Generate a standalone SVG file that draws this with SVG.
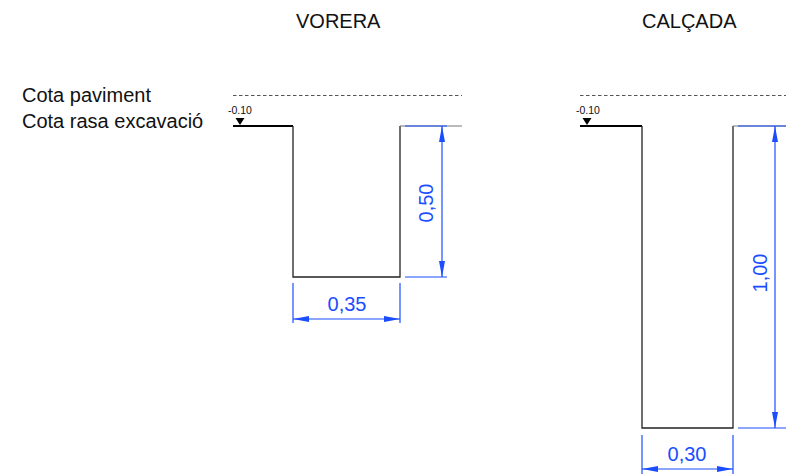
<svg xmlns="http://www.w3.org/2000/svg" width="786" height="474" viewBox="0 0 786 474">
<style>
.t{font-family:"Liberation Sans",Arial,sans-serif;font-size:20px;fill:#111}
.s{font-family:"Liberation Sans",Arial,sans-serif;font-size:10.5px;fill:#111}
.d{font-family:"Liberation Sans",Arial,sans-serif;font-size:20px;fill:#1a4dff}
.dash{stroke:#555;stroke-width:1.2;stroke-dasharray:3.5 2.5;fill:none}
.wall{stroke:#222;stroke-width:1.3;fill:none}
.thick{stroke:#000;stroke-width:2.2;fill:none}
.grey{stroke:#777;stroke-width:1.2;fill:none}
.dim{stroke:#1a4dff;stroke-width:1.2;fill:none}
.tri{fill:#000}
</style>
<defs>
<marker id="ae" viewBox="0 0 16 6" refX="16" refY="3" markerWidth="16" markerHeight="6" markerUnits="userSpaceOnUse" orient="auto">
<path d="M0,0 L16,3 L0,6 Z" fill="#1a4dff"/>
</marker>
<marker id="as" viewBox="0 0 16 6" refX="0" refY="3" markerWidth="16" markerHeight="6" markerUnits="userSpaceOnUse" orient="auto">
<path d="M16,0 L0,3 L16,6 Z" fill="#1a4dff"/>
</marker>
</defs>

<g id="labels">
<text class="t" x="22" y="102">Cota paviment</text>
<text class="t" x="22" y="128">Cota rasa excavació</text>
<text class="t" x="296" y="28">VORERA</text>
<text class="t" x="642" y="28">CALÇADA</text>
</g>

<g id="vorera">
<line class="dash" x1="233" y1="95.5" x2="462" y2="95.5"/>
<text class="s" x="228" y="114">-0.10</text>
<path class="tri" d="M235.5,118 L244.5,118 L240,125 Z"/>
<line class="thick" x1="233" y1="126" x2="293" y2="126"/>
<path class="wall" d="M293,126 V277 H400 V126"/>
<line class="grey" x1="400" y1="126" x2="462" y2="126"/>
</g>

<g id="calcada">
<line class="dash" x1="580" y1="95.5" x2="786" y2="95.5"/>
<text class="s" x="576" y="114">-0.10</text>
<path class="tri" d="M582.5,118 L591.5,118 L587,125 Z"/>
<line class="thick" x1="580" y1="126" x2="642" y2="126"/>
<path class="wall" d="M642,126 V428 H733 V126"/>
<line class="grey" x1="733" y1="126" x2="786" y2="126"/>
</g>

<g id="connectors">
<line class="dim" x1="405" y1="126" x2="447" y2="126"/>
<line class="dim" x1="405" y1="277" x2="447" y2="277"/>
<line class="dim" x1="442" y1="126" x2="442" y2="277" marker-start="url(#as)" marker-end="url(#ae)"/>
<line class="dim" x1="293" y1="283" x2="293" y2="323"/>
<line class="dim" x1="400" y1="283" x2="400" y2="323"/>
<line class="dim" x1="293" y1="319" x2="400" y2="319" marker-start="url(#as)" marker-end="url(#ae)"/>
<line class="dim" x1="738" y1="126" x2="786" y2="126"/>
<line class="dim" x1="738" y1="428" x2="786" y2="428"/>
<line class="dim" x1="775" y1="126" x2="775" y2="428" marker-start="url(#as)" marker-end="url(#ae)"/>
<line class="dim" x1="642" y1="435" x2="642" y2="474"/>
<line class="dim" x1="733" y1="435" x2="733" y2="474"/>
<line class="dim" x1="642" y1="469" x2="733" y2="469" marker-start="url(#as)" marker-end="url(#ae)"/>
</g>

<g id="dim-labels">
<text class="d" x="347" y="311" text-anchor="middle">0,35</text>
<text class="d" text-anchor="middle" transform="translate(433,203) rotate(-90)">0,50</text>
<text class="d" x="687" y="461" text-anchor="middle">0,30</text>
<text class="d" text-anchor="middle" transform="translate(767,273) rotate(-90)">1,00</text>
</g>
</svg>
